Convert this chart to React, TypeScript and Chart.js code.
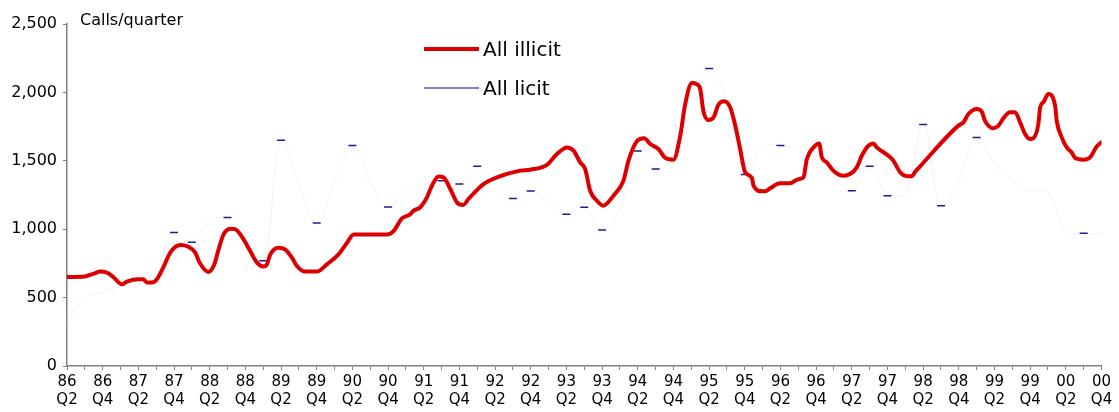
import { useEffect, useRef } from 'react';
import { Chart, registerables } from 'chart.js';

Chart.register(...registerables);

const FONT = '"DejaVu Sans", "Liberation Sans", Arial, sans-serif';

const QUARTERS = [
  '86 Q2', '86 Q3', '86 Q4',
  '87 Q1', '87 Q2', '87 Q3', '87 Q4',
  '88 Q1', '88 Q2', '88 Q3', '88 Q4',
  '89 Q1', '89 Q2', '89 Q3', '89 Q4',
  '90 Q1', '90 Q2', '90 Q3', '90 Q4',
  '91 Q1', '91 Q2', '91 Q3', '91 Q4',
  '92 Q1', '92 Q2', '92 Q3', '92 Q4',
  '93 Q1', '93 Q2', '93 Q3', '93 Q4',
  '94 Q1', '94 Q2', '94 Q3', '94 Q4',
  '95 Q1', '95 Q2', '95 Q3', '95 Q4',
  '96 Q1', '96 Q2', '96 Q3', '96 Q4',
  '97 Q1', '97 Q2', '97 Q3', '97 Q4',
  '98 Q1', '98 Q2', '98 Q3', '98 Q4',
  '99 Q1', '99 Q2', '99 Q3', '99 Q4',
  '00 Q1', '00 Q2', '00 Q3', '00 Q4',
];

// All illicit: position in quarters since 86 Q2, and calls per quarter
const ILLICIT_Q = [
  0, 1.0, 1.5, 1.87, 2.2, 2.6, 3.08, 3.36, 4.0, 4.28, 4.48, 4.76, 5.04, 5.4, 5.79, 6.35, 6.8, 7.19, 7.43, 7.94,
  8.26, 8.5, 8.78, 9.15, 9.43, 9.9, 10.27, 10.65, 11.02, 11.21, 11.4, 11.86, 12.24, 12.61, 12.89, 13.36, 14.01, 14.57, 15.22, 15.7,
  16.07, 17.94, 18.31, 18.78, 19.24, 19.43, 19.8, 20.18, 20.46, 20.83, 21.11, 21.49, 21.86, 22.21, 22.51, 23.35, 24.1, 25.41, 25.97, 26.91,
  27.47, 28.03, 28.4, 28.77, 29.05, 29.33, 29.71, 30.06, 30.64, 31.2, 31.48, 31.95, 32.36, 32.7, 33.16, 33.54, 34.0, 34.38, 34.66, 35.03,
  35.31, 35.5, 35.68, 35.96, 36.24, 36.52, 36.84, 37.18, 37.46, 37.74, 38.02, 38.4, 38.49, 38.96, 39.14, 39.42, 39.98, 40.54, 41.01, 41.29,
  41.48, 41.85, 42.17, 42.32, 42.6, 42.97, 43.53, 43.9, 44.28, 44.56, 44.93, 45.21, 45.4, 46.05, 46.33, 46.71, 47.09, 47.37, 47.55, 47.83,
  49.98, 50.26, 50.54, 51.01, 51.29, 51.47, 51.94, 52.22, 52.5, 52.87, 53.15, 53.44, 53.72, 54.0, 54.18, 54.46, 54.56, 54.74, 55.02, 55.4,
  55.49, 55.77, 56.05, 56.33, 56.52, 56.98, 57.36, 57.73, 58.0,
];
const ILLICIT_CALLS = [
  651, 655, 675, 690, 685, 650, 597, 617, 634, 634, 610, 610, 634, 721, 829, 884, 872, 829, 756, 687,
  743, 853, 962, 1004, 1000, 926, 840, 756, 727, 743, 816, 865, 851, 792, 731, 690, 690, 743, 816, 901,
  962, 962, 986, 1079, 1108, 1135, 1160, 1233, 1318, 1385, 1379, 1294, 1196, 1177, 1221, 1330, 1379, 1428, 1435, 1470,
  1550, 1598, 1574, 1489, 1440, 1281, 1208, 1172, 1245, 1355, 1501, 1643, 1665, 1623, 1586, 1521, 1508, 1683, 1914, 2068,
  2060, 2027, 1864, 1798, 1815, 1910, 1935, 1891, 1762, 1586, 1416, 1375, 1318, 1277, 1277, 1299, 1335, 1335, 1366, 1379,
  1513, 1598, 1627, 1525, 1489, 1428, 1391, 1403, 1452, 1537, 1610, 1627, 1598, 1537, 1501, 1416, 1387, 1387, 1420, 1460,
  1757, 1781, 1842, 1878, 1858, 1792, 1738, 1757, 1811, 1855, 1855, 1781, 1695, 1659, 1665, 1769, 1891, 1928, 1988, 1903,
  1792, 1671, 1598, 1561, 1521, 1508, 1525, 1605, 1635,
];

// All licit: one value per quarter (86 Q2 .. 00 Q4)
const LICIT_CALLS = [
  316, 500, 540, 578, 585, 720, 975, 905, 1055, 1085,
  975, 770, 1650, 1340, 1046, 1340, 1611, 1350, 1163, 1270,
  1330, 1355, 1330, 1460, 1350, 1224, 1280, 1200, 1109, 1160,
  995, 1146, 1572, 1440, 1525, 2010, 2175, 1937, 1400, 1600,
  1611, 1580, 1445, 1370, 1281, 1460, 1245, 1270, 1765, 1172,
  1360, 1671, 1480, 1360, 1281, 1275, 975, 970, 970,
];

const SERIES_NAMES = ['All illicit', 'All licit'];
const Y_TITLE = 'Calls/quarter';
const Y_MAX = 2500;
const Y_STEP = 500;

const RED = '#dd0000';
const FAINT = '#f2f2f5';
const DASH_BLUE = '#1c1c9e';
const LEGEND_BLUE = '#5b5bbd';

const overlayPlugin = {
  id: 'overlay',
  afterDraw(chart: any) {
    const ctx = chart.ctx as CanvasRenderingContext2D;
    const area = chart.chartArea;
    ctx.save();
    ctx.fillStyle = '#000';
    ctx.textBaseline = 'alphabetic';
    ctx.textAlign = 'left';
    ctx.font = `16px ${FONT}`;
    ctx.fillText(Y_TITLE, area.left + 13, area.top + 1);

    const lx = area.left + 357;
    const items = [
      { name: SERIES_NAMES[0], color: RED, width: 4, y: area.top + 25 },
      { name: SERIES_NAMES[1], color: LEGEND_BLUE, width: 1.5, y: area.top + 64 },
    ];
    ctx.font = `20px ${FONT}`;
    ctx.lineCap = 'butt';
    for (const it of items) {
      ctx.strokeStyle = it.color;
      ctx.lineWidth = it.width;
      ctx.beginPath();
      ctx.moveTo(lx, it.y);
      ctx.lineTo(lx + 55, it.y);
      ctx.stroke();
      ctx.fillText(it.name, lx + 59, it.y + 6.5);
    }
    ctx.restore();
  },
};

export default function App() {
  const ref = useRef<HTMLCanvasElement | null>(null);

  useEffect(() => {
    if (!ref.current) return;
    const isExtremum = (i: number) => {
      const d = LICIT_CALLS;
      if (i <= 0 || i >= d.length - 1) return false;
      const a = d[i - 1], b = d[i], n = d[i + 1];
      return (b >= a && b >= n) || (b <= a && b <= n);
    };
    const chart = new Chart(ref.current, {
      type: 'line',
      data: {
        datasets: [
          {
            label: SERIES_NAMES[0],
            data: ILLICIT_Q.map((q, i) => ({ x: q, y: ILLICIT_CALLS[i] })),
            borderColor: RED,
            backgroundColor: RED,
            borderWidth: 4,
            pointRadius: 0,
            cubicInterpolationMode: 'monotone',
            borderJoinStyle: 'round',
            borderCapStyle: 'round',
          },
          {
            label: SERIES_NAMES[1],
            data: LICIT_CALLS.map((v, i) => ({ x: i, y: v })),
            borderColor: FAINT,
            backgroundColor: DASH_BLUE,
            borderWidth: 1,
            tension: 0.4,
            pointStyle: 'line',
            pointRadius: (c: any) => (isExtremum(c.dataIndex) ? 4 : 0),
            pointBorderColor: DASH_BLUE,
            pointBorderWidth: 1.5,
          },
        ],
      },
      options: {
        animation: false,
        responsive: true,
        maintainAspectRatio: false,
        layout: { padding: { top: 24, right: 17.5, left: 0, bottom: 0 } },
        plugins: { legend: { display: false }, tooltip: { enabled: false } },
        scales: {
          x: {
            type: 'linear',
            min: 0,
            max: QUARTERS.length - 1,
            afterFit: (s: any) => { s.height = 46; },
            ticks: {
              stepSize: 1,
              autoSkip: false,
              maxRotation: 0,
              padding: 3,
              color: '#000',
              font: { family: FONT, size: 15, lineHeight: 1.2 },
              callback: (v: any) => {
                const i = Math.round(Number(v));
                if (i % 2 !== 0 || !QUARTERS[i]) return '';
                return QUARTERS[i].split(' ');
              },
            },
            grid: { drawOnChartArea: false, tickLength: 4, color: '#808080' },
            border: { color: '#808080', width: 1.5 },
          },
          y: {
            min: 0,
            max: Y_MAX,
            afterFit: (s: any) => { s.width = 67; },
            ticks: {
              stepSize: Y_STEP,
              padding: 6,
              color: '#000',
              font: { family: FONT, size: 16 },
              callback: (v: any) => Number(v).toLocaleString('en-US'),
            },
            grid: { drawOnChartArea: false, tickLength: 4, color: '#808080' },
            border: { color: '#808080', width: 1.5 },
          },
        },
      },
      plugins: [overlayPlugin],
    } as any);
    return () => chart.destroy();
  }, []);

  return (
    <div style={{ position: 'fixed', left: 0, top: 0, width: 1119, height: 412, background: '#fff' }}>
      <canvas ref={ref} />
    </div>
  );
}
